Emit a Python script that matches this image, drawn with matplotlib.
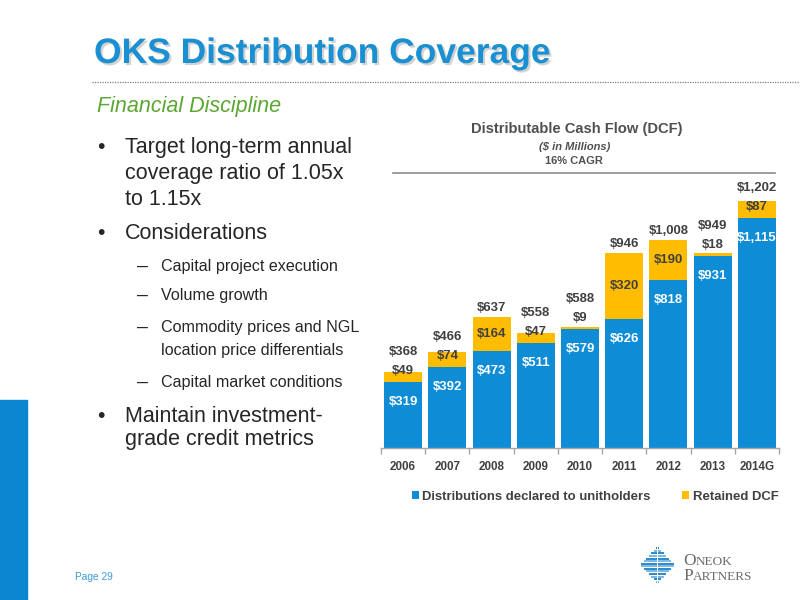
import numpy as np
import matplotlib
matplotlib.use("Agg")
import matplotlib.pyplot as plt
from matplotlib import font_manager
from matplotlib.lines import Line2D
import matplotlib.patheffects as pe

# ---------------- data ----------------
categories = ['2006', '2007', '2008', '2009', '2010', '2011', '2012', '2013', '2014G']
distributions = [319, 392, 473, 511, 579, 626, 818, 931, 1115]
retained = [49, 74, 164, 47, 9, 320, 190, 18, 87]
totals = [368, 466, 637, 558, 588, 946, 1008, 949, 1202]
dist_labels = ['$319', '$392', '$473', '$511', '$579', '$626', '$818', '$931', '$1,115']
ret_labels = ['$49', '$74', '$164', '$47', '$9', '$320', '$190', '$18', '$87']
total_labels = ['$368', '$466', '$637', '$558', '$588', '$946', '$1,008', '$949', '$1,202']
series_names = ['Distributions declared to unitholders', 'Retained DCF']

# ---------------- style ----------------
BLUE = '#0E8CD6'
YELLOW = '#FFBC00'
TITLE_BLUE = '#1A8FD1'
GREEN = '#5BA731'
DARK = '#404040'
TEXT = '#262626'

names = {f.name for f in font_manager.fontManager.ttflist}
HAS_NARROW = 'Liberation Sans Narrow' in names
NARROW = ['Liberation Sans Narrow', 'Liberation Sans'] if HAS_NARROW else ['Liberation Sans']
NK = 1.0 if HAS_NARROW else 0.82  # size factor when no narrow face
SANS = ['Liberation Sans', 'DejaVu Sans']
SERIF = ['Liberation Serif', 'DejaVu Serif']

W, H = 800, 600
fig = plt.figure(figsize=(8, 6), dpi=100)
fig.patch.set_facecolor('white')


def fx(x):
    return x / W


def fy(y):
    return 1 - y / H


def ftext(x, y, s, **kw):
    return fig.text(fx(x), fy(y), s, **kw)


# ---------------- slide decorations ----------------
fig.patches.append(plt.Rectangle((0, 0), fx(27), fy(400),
                                 transform=fig.transFigure, color='#0A86D0', zorder=0))

ftext(94, 63, 'OKS Distribution Coverage', family=SANS, weight='bold', size=25.5,
      color=TITLE_BLUE, va='baseline', ha='left',
      path_effects=[pe.SimplePatchShadow(offset=(1.5, -1.5), shadow_rgbFace='#909090', alpha=0.4),
                    pe.Normal()])
fig.add_artist(Line2D([fx(92), fx(800)], [fy(82), fy(82)], transform=fig.transFigure,
                      color='#808080', lw=0.9, linestyle=(0, (1, 1))))
ftext(97, 112, 'Financial Discipline', family=NARROW, style='italic',
      size=19 * NK if HAS_NARROW else 15.5, color=GREEN, va='baseline', ha='left')

bullets = [
    (153, 'Target long-term annual', True, 0),
    (179, 'coverage ratio of 1.05x', False, 0),
    (205, 'to 1.15x', False, 0),
    (239, 'Considerations', True, 0),
    (271, 'Capital project execution', True, 1),
    (300, 'Volume growth', True, 1),
    (332, 'Commodity prices and NGL', True, 1),
    (355, 'location price differentials', False, 1),
    (387, 'Capital market conditions', True, 1),
    (422, 'Maintain investment-', True, 0),
    (445, 'grade credit metrics', False, 0),
]
for yb, s, mark, lvl in bullets:
    if lvl == 0:
        if mark:
            ftext(97, yb, '\u2022', family=SANS, size=15.3, color=TEXT, va='baseline')
        ftext(125, yb, s, family=SANS, size=15.5, color=TEXT, va='baseline')
    else:
        if mark:
            ftext(137, yb, '\u2013', family=SANS, size=14, color=TEXT, va='baseline')
        ftext(161, yb, s, family=NARROW, size=14.2 * NK, color=TEXT, va='baseline')

ftext(75, 577, 'Page 29', family=SANS, size=7.3, color='#3A9BDA', va='center')

# chart title
ftext(577, 133, 'Distributable Cash Flow (DCF)', family=NARROW, weight='bold',
      size=13 * NK, color='#505050', ha='center', va='baseline')
ftext(575, 149.5, '($ in Millions)', family=SANS, weight='bold', style='italic',
      size=8, color='#505050', ha='center', va='baseline')
ftext(574, 164, '16% CAGR', family=SANS, weight='bold',
      size=8, color='#505050', ha='center', va='baseline')
fig.add_artist(Line2D([fx(393), fx(775)], [fy(172.5), fy(172.5)], transform=fig.transFigure,
                      color='#8C8C8C', lw=1.2))

# ---------------- chart ----------------
ax_left, ax_right, ax_base, ax_top = 381, 779, 448, 189
ax = fig.add_axes([fx(ax_left), fy(ax_base), (ax_right - ax_left) / W, (ax_base - ax_top) / H])
YMAX = 1258
ax.set_xlim(-0.5, len(categories) - 0.5)
ax.set_ylim(0, YMAX)
x = np.arange(len(categories))
b1 = ax.bar(x, distributions, 0.86, color=BLUE, label=series_names[0], zorder=2)
b2 = ax.bar(x, retained, 0.86, bottom=distributions, color=YELLOW, label=series_names[1], zorder=2)

for sp in ['top', 'left', 'right']:
    ax.spines[sp].set_visible(False)
ax.spines['bottom'].set_color('#A6A6A6')
ax.spines['bottom'].set_linewidth(1.0)
ax.set_yticks([])
ax.set_xticks(x, categories)
ax.set_xticks(np.arange(-0.5, len(categories), 1), minor=True)
ax.tick_params(axis='x', which='major', length=0, pad=9)
ax.tick_params(axis='x', which='minor', length=4, width=1, color='#A6A6A6', direction='out')
for lab in ax.get_xticklabels():
    lab.set_fontfamily(NARROW)
    lab.set_fontweight('bold')
    lab.set_fontsize(10.2 * NK)
    lab.set_color(DARK)

ppu = (ax_base - ax_top) / YMAX  # pixels per unit
PT = 0.72  # points per pixel
LSIZE = 11.5 * NK
for i in range(len(categories)):
    d, r, t = distributions[i], retained[i], totals[i]
    ax.annotate(dist_labels[i], (x[i], d), xytext=(0, -20 * PT), textcoords='offset points',
                ha='center', va='center', color='white', family=NARROW, weight='bold',
                size=LSIZE, zorder=4)
    rpx = r * ppu
    if rpx >= 20:
        ax.annotate(ret_labels[i], (x[i], d + r / 2), ha='center', va='center', color=DARK,
                    family=NARROW, weight='bold', size=LSIZE, zorder=4)
        ax.annotate(total_labels[i], (x[i], t), xytext=(0, 3 * PT), textcoords='offset points',
                    ha='center', va='bottom', color=DARK, family=NARROW, weight='bold',
                    size=LSIZE, zorder=4, annotation_clip=False)
    else:
        ax.annotate(ret_labels[i], (x[i], d), xytext=(0, 11 * PT), textcoords='offset points',
                    ha='center', va='center', color=DARK, family=NARROW, weight='bold',
                    size=LSIZE, zorder=4)
        ax.annotate(total_labels[i], (x[i], d), xytext=(0, 24 * PT), textcoords='offset points',
                    ha='center', va='bottom', color=DARK, family=NARROW, weight='bold',
                    size=LSIZE, zorder=4, annotation_clip=False)

leg = fig.legend(handles=[b1, b2], labels=series_names, loc='center',
                 bbox_to_anchor=(fx(595), fy(497)), ncol=2, frameon=False,
                 handlelength=0.55, handleheight=0.55, handletextpad=0.25,
                 columnspacing=2.4, borderaxespad=0,
                 prop={'family': NARROW, 'weight': 'bold', 'size': 11.5 * NK})
for t in leg.get_texts():
    t.set_color(DARK)

# ---------------- logo ----------------
cx, cy, hw, hh = 657.5, 565, 17.5, 18
n = 14
for k in range(n):
    yy = cy - hh + (k + 0.5) * (2 * hh / n)
    half = hw * (1 - abs(yy - cy) / hh)
    col = '#2A8ACB' if k % 2 == 0 else '#7DB9E4'
    for x0, x1 in [(cx - half, cx - 0.8), (cx + 0.8, cx + half)]:
        if x1 > x0:
            fig.add_artist(Line2D([fx(x0), fx(x1)], [fy(yy), fy(yy)], transform=fig.transFigure,
                                  color=col, lw=1.4, solid_capstyle='butt'))

fig.canvas.draw()
rend = fig.canvas.get_renderer()
LOGO = '#6B6B6B'
for word, yb in [('ONEOK', 565), ('PARTNERS', 580)]:
    t1 = ftext(683, yb, word[0], family=SERIF, size=12.5, color=LOGO, va='baseline')
    bb = t1.get_window_extent(rend)
    fig.text(bb.x1 / W + 0.0006, fy(yb), word[1:], family=SERIF,
             size=9.5, color=LOGO, va='baseline')

fig.savefig('out.png', dpi=100)
